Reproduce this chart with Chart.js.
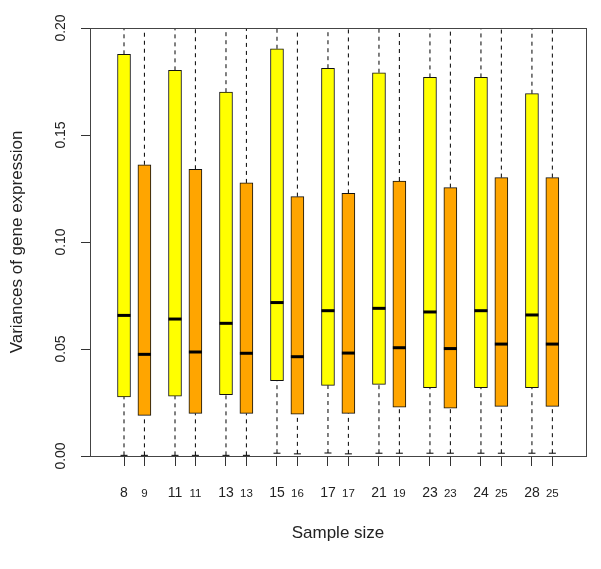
<!DOCTYPE html>
<html>
<head>
<meta charset="utf-8">
<script src="https://cdn.jsdelivr.net/npm/chart.js@4.4.1/dist/chart.umd.min.js"></script>
<style>
  body { margin: 0; background: #fff; }
  #wrap { width: 601px; height: 569px; }
</style>
</head>
<body>
<div id="wrap"><canvas id="chart"></canvas></div>
<script>
// Box positions (yellow / orange pairs) and their sample size labels
const positions = [1, 1.4, 2, 2.4, 3, 3.4, 4, 4.4, 5, 5.4, 6, 6.4, 7, 7.4, 8, 8.4, 9, 9.4];
const sampleSizes = ['8', '9', '11', '11', '13', '13', '15', '16', '17', '17', '21', '19', '23', '23', '24', '25', '28', '25'];

// Box statistics (upper whiskers run past the top of the axis)
const upperWhisker = [0.21, 0.21, 0.21, 0.21, 0.21, 0.21, 0.21, 0.21, 0.21, 0.21, 0.21, 0.21, 0.21, 0.21, 0.21, 0.21, 0.21, 0.21];
const upperQuartile = [0.1877, 0.1361, 0.1802, 0.1340, 0.1700, 0.1276, 0.1903, 0.1212, 0.1812, 0.1227, 0.1791, 0.1285, 0.1769, 0.1254, 0.1769, 0.1301, 0.1693, 0.1301];
const medians = [0.0657, 0.0475, 0.0640, 0.0486, 0.0620, 0.0480, 0.0717, 0.0464, 0.0679, 0.0481, 0.0690, 0.0506, 0.0673, 0.0502, 0.0679, 0.0523, 0.0659, 0.0523];
const lowerQuartile = [0.0276, 0.0190, 0.0280, 0.0199, 0.0287, 0.0199, 0.0352, 0.0195, 0.0330, 0.0199, 0.0335, 0.0228, 0.0319, 0.0223, 0.0319, 0.0232, 0.0319, 0.0232];
const lowerWhisker = [0.0003, 0.0003, 0.0003, 0.0003, 0.0003, 0.0003, 0.0013, 0.0010, 0.0014, 0.0010, 0.0013, 0.0013, 0.0013, 0.0013, 0.0013, 0.0013, 0.0013, 0.0013];

const yTicks = [0, 0.05, 0.10, 0.15, 0.20];

const FONT = "'Liberation Sans', Arial, sans-serif";

// whiskers: dashed segments split by null gaps
const whiskerPoints = [];
positions.forEach((x, i) => {
    whiskerPoints.push(
        { x, y: upperQuartile[i] }, { x, y: upperWhisker[i] }, { x, y: null },
        { x, y: lowerWhisker[i] }, { x, y: lowerQuartile[i] }, { x, y: null }
    );
});

// plot frame around the chart area
const framePlugin = {
    id: 'frame',
    afterDatasetsDraw(chart) {
        const { ctx, chartArea: a } = chart;
        ctx.save();
        ctx.strokeStyle = '#444';
        ctx.lineWidth = 1;
        ctx.strokeRect(Math.round(a.left) + 0.5, Math.round(a.top) + 0.5,
            Math.round(a.right - a.left), Math.round(a.bottom - a.top));
        ctx.restore();
    }
};

new Chart(document.getElementById('chart'), {
    type: 'bar',
    data: {
        datasets: [
            {
                type: 'scatter',
                data: positions.map((x, i) => ({ x, y: medians[i] })),
                pointStyle: 'line',
                pointRadius: 6.5,
                pointBorderWidth: 3,
                pointBorderColor: '#000',
                order: 0
            },
            {
                type: 'scatter',
                data: positions.map((x, i) => ({ x, y: lowerWhisker[i] })),
                pointStyle: 'line',
                pointRadius: 3.5,
                pointBorderWidth: 1,
                pointBorderColor: '#000',
                order: 1
            },
            {
                type: 'bar',
                data: positions.map((x, i) => ({ x, y: [lowerQuartile[i], upperQuartile[i]] })),
                backgroundColor: positions.map((_, i) => i % 2 ? '#FFA500' : '#FFFF00'),
                borderColor: '#111',
                borderWidth: 1,
                borderSkipped: false,
                barThickness: 13,
                grouped: false,
                order: 2
            },
            {
                type: 'line',
                data: whiskerPoints,
                borderColor: '#000',
                borderWidth: 1,
                borderDash: [4, 4],
                pointRadius: 0,
                spanGaps: false,
                order: 3
            }
        ]
    },
    options: {
        responsive: true,
        maintainAspectRatio: false,
        animation: false,
        events: [],
        layout: { padding: { top: 28, right: 15, left: 0, bottom: 0 } },
        plugins: {
            legend: { display: false },
            tooltip: { enabled: false }
        },
        scales: {
            x: {
                type: 'linear',
                min: 0.333,
                max: 10.06,
                offset: false,
                afterBuildTicks: s => { s.ticks = positions.map(v => ({ value: v })); },
                afterFit: s => { s.height = 113; },
                grid: { offset: false, drawOnChartArea: false, drawTicks: true, tickLength: 10, color: '#333' },
                border: { display: true, color: '#444' },
                ticks: {
                    autoSkip: false,
                    maxRotation: 0,
                    padding: 19,
                    color: '#222',
                    callback: (v, i) => sampleSizes[i],
                    font: c => c.index % 2
                        ? { family: FONT, size: 11.5, lineHeight: 1.6 }
                        : { family: FONT, size: 14, lineHeight: 1.2 }
                },
                title: {
                    display: true,
                    text: 'Sample size',
                    color: '#222',
                    font: { family: FONT, size: 17 },
                    padding: { top: 0, bottom: 25 }
                }
            },
            y: {
                min: 0,
                max: 0.2,
                afterBuildTicks: s => { s.ticks = yTicks.map(v => ({ value: v })); },
                afterFit: s => { s.width = 90; },
                grid: { drawOnChartArea: false, drawTicks: true, tickLength: 9, color: '#333' },
                border: { display: true, color: '#444' },
                ticks: {
                    minRotation: 90,
                    maxRotation: 90,
                    crossAlign: 'center',
                    padding: 6,
                    color: '#222',
                    font: { family: FONT, size: 14 },
                    callback: v => v.toFixed(2)
                },
                title: {
                    display: true,
                    text: 'Variances of gene expression',
                    color: '#222',
                    font: { family: FONT, size: 17 },
                    padding: { top: 7, bottom: 0 }
                }
            }
        }
    },
    plugins: [framePlugin]
});
</script>
</body>
</html>
